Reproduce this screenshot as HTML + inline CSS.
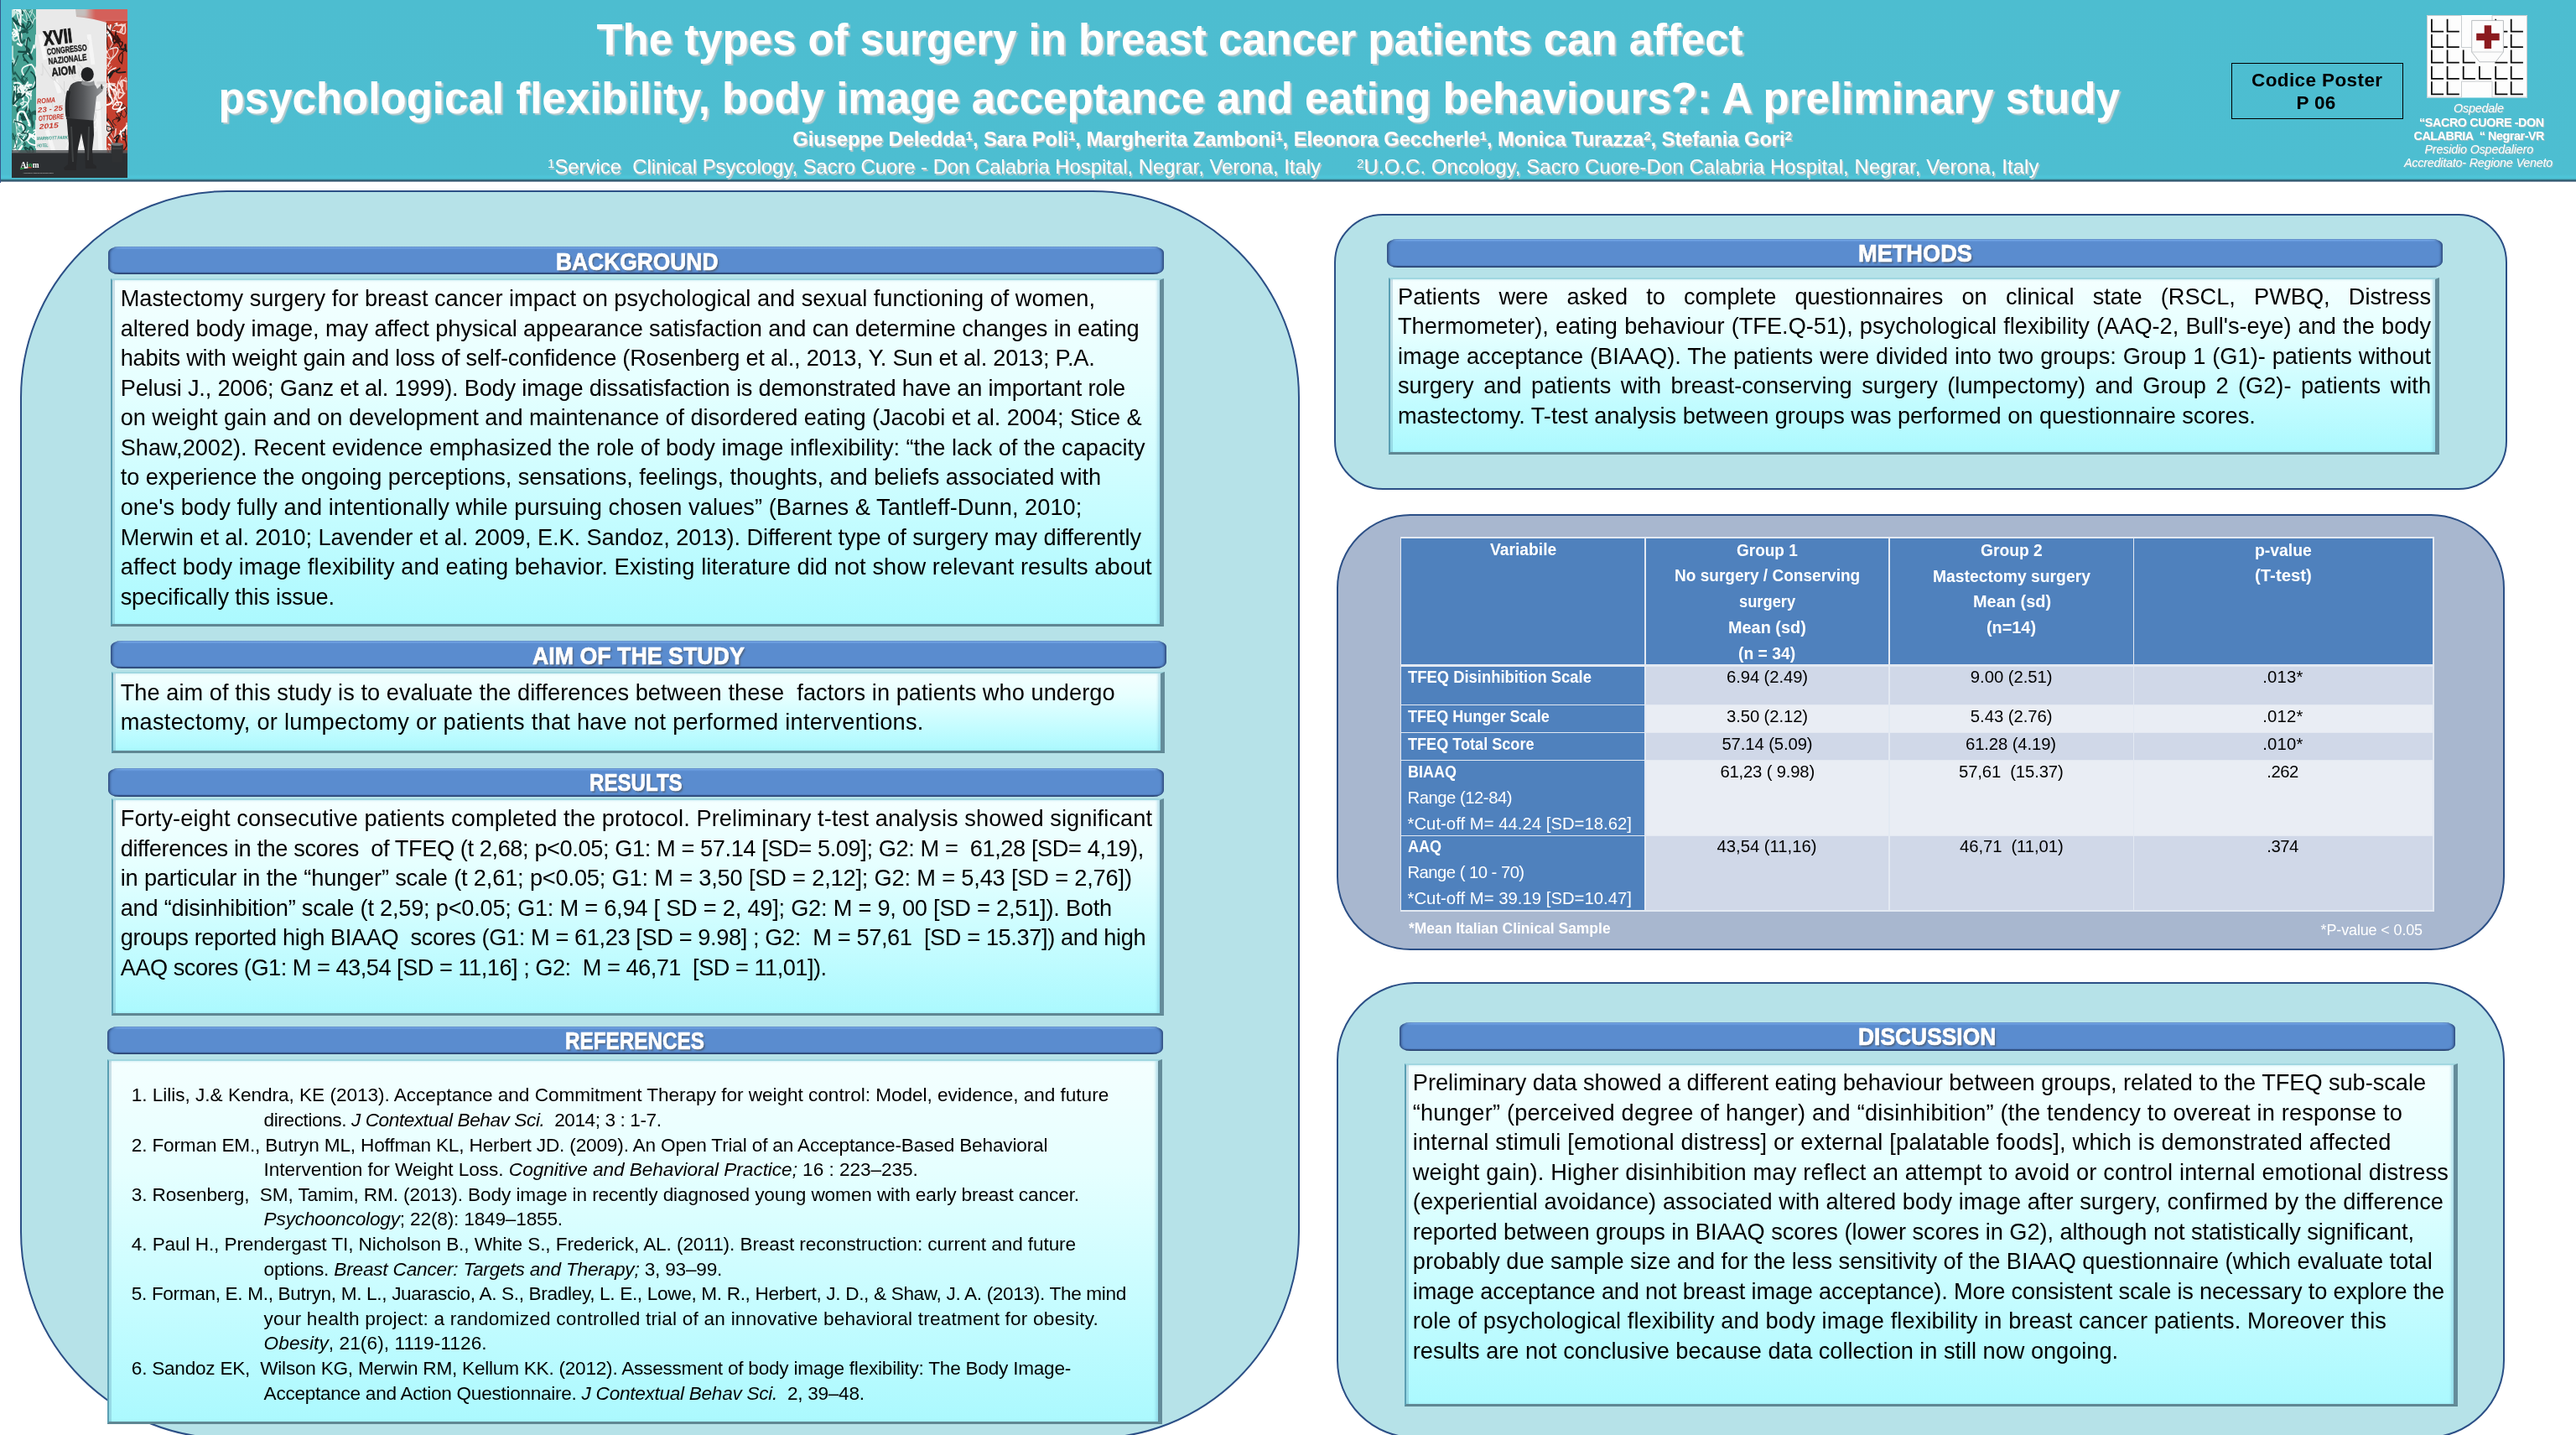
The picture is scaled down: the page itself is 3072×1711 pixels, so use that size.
<!DOCTYPE html>
<html lang="en">
<head>
<meta charset="utf-8">
<title>The types of surgery in breast cancer patients – poster</title>
<style>
html,body{margin:0;padding:0;}
html{background:#fff;}
body{width:3072px;height:1711px;background:#fff;font-family:"Liberation Sans",sans-serif;color:#000;}
#pg{position:relative;width:3072px;height:1711px;overflow:hidden;background:#fff;}
.t{position:absolute;white-space:nowrap;line-height:1;}
.sx{transform-origin:0 50%;}
#txt{position:absolute;left:0;top:0;width:3072px;height:1711px;will-change:transform;}
.su{font-size:64%;position:relative;top:-.45em;}
.abs{position:absolute;box-sizing:border-box;}
#hdr{left:0;top:0;width:3072px;height:218px;
 background:linear-gradient(#4dbdd0 0,#4dbed1 208px,#4ec6da 211px,#4cbfd1 213.2px,#3a7f92 214.2px,#2d5a6c 215px,#35566e 216px,#aebccd 216.8px,#fff 217.5px);
 border-left:1.5px solid #35588a;}
.panel{border:2px solid #2b4f86;background:#b6e2e8;}
.bar{background:linear-gradient(#6d9fe0 0,#7fb3f3 1.2px,#5e90d4 2.8px,#5a8ccf 4px,#5a8ccf calc(100% - 3.2px),#4c7abc calc(100% - 2.2px),#2e4876 calc(100% - 1.2px),#2e4876 100%);
 border-radius:13px/8px;box-shadow:inset 3px 0 3px -1px rgba(40,65,110,.85),inset -3px 0 3px -1px rgba(40,65,110,.85);}
.tb{background:linear-gradient(#f4ffff 0,#e6ffff 30%,#c4fcff 70%,#abf9fe 100%);
 border-top:2px solid #a0d7e0;border-left:2px solid #5a9fb3;border-right:5px solid #648c9a;border-bottom:3px solid #5f8793;
 box-shadow:inset 3px 0 0 rgba(90,140,170,.28),inset -3px 0 3px rgba(120,190,215,.45);}
#cod{left:2661px;top:75px;width:205px;height:67px;border:1.5px solid #000;}
/* table */
.c{position:absolute;box-sizing:border-box;}
</style>
</head>
<body>
<div id="pg">
<!-- ===== header ===== -->
<div class="abs" id="hdr"></div>
<!--AIOM--><svg class="abs" style="left:14px;top:11px;will-change:transform" width="138" height="201" viewBox="0 0 138 201" font-family="Liberation Sans, sans-serif">
<defs><filter id="bl" x="-20%" y="-20%" width="140%" height="140%"><feGaussianBlur stdDeviation="2.2"/></filter>
<linearGradient id="tor" x1="0" x2="1" y1="0" y2="0"><stop offset="0" stop-color="#2e2f31"/><stop offset=".45" stop-color="#55575a"/><stop offset="1" stop-color="#9a9c9e"/></linearGradient></defs>
<rect width="138" height="201" fill="#cbb9b2"/>
<g filter="url(#bl)"><rect x="70" y="-4" width="72" height="24" fill="#cf8f88"/><rect x="96" y="-4" width="46" height="20" fill="#d4605a"/><rect x="60" y="-4" width="30" height="14" fill="#c4c0be"/></g>
<rect x="0" y="0" width="30" height="176" fill="#46a193"/>
<path d="M10.1 27.6 Q1.0 36.6 1.9 30.3 Q11.8 22.3 1.0 27.7 Q1.0 29.1 1.0 29.8 Q11.7 33.4 2.7 15.7" fill="none" stroke="#ffffff" stroke-width="1.5" stroke-linecap="round"/>
<path d="M28.3 9.9 Q23.3 -0.0 20.7 3.8 Q28.3 -5.1 22.3 8.2" fill="none" stroke="#c9e8e1" stroke-width="1.0" stroke-linecap="round"/>
<path d="M20.9 97.9 Q13.9 103.0 19.5 92.0 Q21.5 90.7 15.5 101.4 Q20.3 94.3 17.0 102.2 Q26.0 108.6 12.7 117.6" fill="none" stroke="#eef8f5" stroke-width="1.7" stroke-linecap="round"/>
<path d="M5.6 60.1 Q3.7 73.1 1.0 62.0 Q7.9 70.9 1.0 57.2 Q1.0 65.5 1.0 44.2" fill="none" stroke="#c9e8e1" stroke-width="1.7" stroke-linecap="round"/>
<path d="M19.6 12.3 Q15.0 14.5 23.2 10.6 Q28.4 21.4 20.2 24.7 Q16.7 27.8 20.0 15.7 Q14.9 22.3 18.0 29.0" fill="none" stroke="#174a44" stroke-width="0.9" stroke-linecap="round"/>
<path d="M13.6 95.4 Q21.2 105.6 9.1 92.7 Q5.8 103.5 18.3 81.5" fill="none" stroke="#1f5d55" stroke-width="1.1" stroke-linecap="round"/>
<path d="M19.4 4.1 Q11.8 -2.1 12.4 5.2 Q15.0 0.1 4.9 16.7 Q15.7 21.0 9.7 15.3 Q18.6 27.9 13.3 17.2" fill="none" stroke="#174a44" stroke-width="1.5" stroke-linecap="round"/>
<path d="M3.9 109.8 Q1.0 123.4 2.7 97.3 Q5.1 86.2 4.0 98.5" fill="none" stroke="#c9e8e1" stroke-width="1.9" stroke-linecap="round"/>
<path d="M3.0 37.4 Q1.0 30.4 1.0 33.0 Q1.0 42.8 10.9 31.9 Q10.5 20.3 2.9 26.9" fill="none" stroke="#c9e8e1" stroke-width="1.7" stroke-linecap="round"/>
<path d="M20.4 89.8 Q29.0 90.6 13.3 91.2 Q2.0 91.9 22.9 102.8" fill="none" stroke="#ffffff" stroke-width="2.3" stroke-linecap="round"/>
<path d="M15.5 156.4 Q22.0 157.3 21.1 151.0 Q14.4 159.7 29.0 162.2 Q29.0 171.2 29.0 153.5" fill="none" stroke="#ffffff" stroke-width="1.7" stroke-linecap="round"/>
<path d="M21.5 170.2 Q20.8 161.7 23.6 165.2 Q29.0 171.5 20.6 172.0 Q10.5 160.9 20.0 166.8" fill="none" stroke="#174a44" stroke-width="1.9" stroke-linecap="round"/>
<path d="M26.2 144.9 Q29.0 140.5 29.0 155.6 Q19.9 152.5 29.0 146.0 Q29.0 144.1 29.0 132.7" fill="none" stroke="#ffffff" stroke-width="1.5" stroke-linecap="round"/>
<path d="M12.2 163.0 Q4.1 176.8 2.8 165.9 Q2.0 170.2 5.0 168.9 Q4.4 181.2 1.0 170.5 Q1.0 178.9 5.5 157.8" fill="none" stroke="#ffffff" stroke-width="2.5" stroke-linecap="round"/>
<path d="M13.1 150.2 Q1.8 142.2 13.2 158.6 Q9.0 159.9 19.9 144.6" fill="none" stroke="#ffffff" stroke-width="1.4" stroke-linecap="round"/>
<path d="M13.8 101.2 Q11.9 112.9 13.9 102.2 Q14.4 88.7 12.7 92.0 Q1.0 100.4 6.1 91.2 Q11.5 92.8 2.6 91.8" fill="none" stroke="#ffffff" stroke-width="1.7" stroke-linecap="round"/>
<path d="M22.7 152.1 Q16.7 145.9 28.2 152.4 Q29.0 159.7 29.0 150.6" fill="none" stroke="#ffffff" stroke-width="2.6" stroke-linecap="round"/>
<path d="M18.0 35.9 Q16.8 36.8 17.5 50.0 Q22.3 60.6 26.4 42.3 Q27.8 54.7 29.0 30.7" fill="none" stroke="#eef8f5" stroke-width="1.5" stroke-linecap="round"/>
<path d="M9.8 116.1 Q1.0 120.8 15.5 128.8 Q7.2 134.9 18.7 117.4 Q27.9 130.5 13.1 131.9" fill="none" stroke="#174a44" stroke-width="2.4" stroke-linecap="round"/>
<path d="M5.6 115.5 Q1.0 113.6 5.9 110.4 Q1.0 105.3 10.3 95.0" fill="none" stroke="#ffffff" stroke-width="1.6" stroke-linecap="round"/>
<path d="M20.7 67.3 Q23.7 67.7 12.0 82.9 Q18.9 96.1 4.1 75.4 Q1.0 83.2 1.0 63.5 Q1.0 75.0 7.4 55.8" fill="none" stroke="#1f5d55" stroke-width="1.8" stroke-linecap="round"/>
<path d="M15.4 86.1 Q5.6 73.7 19.2 83.7 Q8.9 96.0 21.9 93.3 Q11.9 103.3 13.2 105.0" fill="none" stroke="#174a44" stroke-width="0.8" stroke-linecap="round"/>
<path d="M28.8 73.0 Q29.0 60.2 29.0 87.0 Q29.0 80.4 22.6 100.9 Q25.7 101.7 16.7 99.1" fill="none" stroke="#ffffff" stroke-width="1.1" stroke-linecap="round"/>
<path d="M10.7 5.1 Q1.0 -8.4 10.8 20.4 Q11.2 13.3 9.8 25.5 Q13.4 29.8 10.7 37.9" fill="none" stroke="#ffffff" stroke-width="1.4" stroke-linecap="round"/>
<path d="M7.0 41.0 Q15.0 46.8 9.7 38.0 Q6.1 25.5 2.3 24.2" fill="none" stroke="#ffffff" stroke-width="2.4" stroke-linecap="round"/>
<path d="M13.1 11.4 Q21.3 21.8 16.5 4.4 Q10.3 -1.4 15.7 2.0 Q14.4 -4.6 24.9 17.1 Q26.0 10.0 29.0 11.0" fill="none" stroke="#c9e8e1" stroke-width="1.1" stroke-linecap="round"/>
<path d="M10.4 16.3 Q10.5 7.9 10.5 2.0 Q4.8 -9.5 8.5 2.0 Q1.0 -3.5 3.1 4.7" fill="none" stroke="#ffffff" stroke-width="2.3" stroke-linecap="round"/>
<path d="M5.3 153.8 Q2.7 148.9 15.0 142.6 Q20.4 146.6 5.9 153.3 Q15.3 156.9 10.6 163.3 Q1.9 163.9 10.7 172.0" fill="none" stroke="#8fcfc3" stroke-width="0.8" stroke-linecap="round"/>
<path d="M20.2 137.7 Q24.6 143.1 14.8 122.7 Q6.0 118.8 6.9 133.4 Q8.3 137.0 9.4 139.2 Q9.2 125.3 15.4 147.1" fill="none" stroke="#ffffff" stroke-width="2.4" stroke-linecap="round"/>
<path d="M3.6 91.4 Q9.3 84.5 1.0 83.9 Q6.5 75.7 5.8 99.1 Q5.7 95.9 5.4 105.0 Q11.8 108.3 8.2 91.5" fill="none" stroke="#1f5d55" stroke-width="1.4" stroke-linecap="round"/>
<path d="M19.2 119.8 Q20.9 106.1 10.5 112.4 Q14.6 117.8 14.0 105.7 Q14.4 104.7 13.3 93.5 Q22.7 85.1 22.9 107.5" fill="none" stroke="#eef8f5" stroke-width="1.3" stroke-linecap="round"/>
<path d="M3.1 88.1 Q15.0 85.0 11.5 101.9 Q1.3 90.4 16.4 94.3 Q13.1 97.2 19.1 87.2" fill="none" stroke="#eef8f5" stroke-width="2.1" stroke-linecap="round"/>
<path d="M7.5 154.6 Q4.9 145.1 16.5 160.4 Q14.2 166.8 14.8 156.5 Q5.7 151.7 11.3 151.3" fill="none" stroke="#174a44" stroke-width="1.0" stroke-linecap="round"/>
<path d="M26.9 123.2 Q21.9 119.6 24.8 139.2 Q26.9 135.3 23.4 132.0 Q12.5 120.8 29.0 125.1 Q29.0 118.1 24.3 125.5" fill="none" stroke="#1f5d55" stroke-width="2.2" stroke-linecap="round"/>
<path d="M23.0 74.7 Q29.0 78.4 29.0 88.8 Q29.0 95.0 20.0 96.3" fill="none" stroke="#174a44" stroke-width="1.9" stroke-linecap="round"/>
<path d="M4.9 149.8 Q1.0 161.8 1.0 148.9 Q1.0 143.3 5.8 164.2 Q1.0 168.5 1.8 166.0" fill="none" stroke="#174a44" stroke-width="1.0" stroke-linecap="round"/>
<path d="M19.0 14.8 Q28.8 14.7 13.4 27.8 Q25.3 26.4 6.2 17.9 Q1.0 13.5 1.0 9.6 Q1.0 11.5 8.7 17.6" fill="none" stroke="#174a44" stroke-width="1.5" stroke-linecap="round"/>
<path d="M21.9 37.7 Q18.0 25.4 17.4 52.7 Q8.5 52.8 20.0 64.3 Q13.2 57.9 15.0 61.1" fill="none" stroke="#174a44" stroke-width="1.6" stroke-linecap="round"/>
<path d="M9.7 140.4 Q1.0 138.3 15.0 150.2 Q26.2 149.9 6.5 163.9" fill="none" stroke="#8fcfc3" stroke-width="1.8" stroke-linecap="round"/>
<path d="M14.1 78.3 Q7.5 68.6 23.5 65.8 Q29.0 71.4 29.0 78.4" fill="none" stroke="#eef8f5" stroke-width="1.8" stroke-linecap="round"/>
<path d="M2.1 135.0 Q3.8 122.0 6.4 149.8 Q9.4 150.6 5.2 158.2" fill="none" stroke="#eef8f5" stroke-width="0.9" stroke-linecap="round"/>
<path d="M15.7 101.1 Q9.9 109.2 5.7 102.3 Q17.6 96.1 2.0 113.2 Q1.0 113.9 3.0 98.1" fill="none" stroke="#174a44" stroke-width="2.1" stroke-linecap="round"/>
<path d="M9.6 5.7 Q18.8 9.8 1.2 2.0 Q1.0 -1.6 1.1 8.3 Q6.3 4.4 1.0 2.0" fill="none" stroke="#c9e8e1" stroke-width="2.1" stroke-linecap="round"/>
<path d="M15.1 36.9 Q10.6 45.8 9.8 28.0 Q16.0 22.2 18.8 27.8" fill="none" stroke="#1f5d55" stroke-width="2.4" stroke-linecap="round"/>
<path d="M14.6 156.8 Q25.4 146.9 12.5 147.6 Q23.8 137.6 3.5 133.5" fill="none" stroke="#174a44" stroke-width="1.6" stroke-linecap="round"/>
<path d="M20.9 55.4 Q29.0 67.5 17.5 45.4 Q28.0 52.2 8.2 50.6" fill="none" stroke="#174a44" stroke-width="2.3" stroke-linecap="round"/>
<rect x="112.5" y="14" width="25.5" height="162" fill="#c6402f"/>
<path d="M136.6 86.1 Q124.7 80.0 133.7 100.7 Q124.6 113.7 127.8 96.1" fill="none" stroke="#f4d2cc" stroke-width="1.9" stroke-linecap="round"/>
<path d="M123.4 25.6 Q116.1 26.7 122.3 19.9 Q128.0 19.2 124.9 18.0 Q127.9 15.3 122.5 18.0" fill="none" stroke="#ffffff" stroke-width="1.1" stroke-linecap="round"/>
<path d="M130.9 156.4 Q127.6 151.8 137.0 141.8 Q137.0 147.1 137.0 135.3 Q137.0 138.0 137.0 149.6" fill="none" stroke="#ffffff" stroke-width="0.7" stroke-linecap="round"/>
<path d="M118.6 91.2 Q129.5 88.0 113.6 88.9 Q113.5 100.9 113.0 98.6 Q118.7 107.7 118.5 102.1" fill="none" stroke="#f4d2cc" stroke-width="1.9" stroke-linecap="round"/>
<path d="M124.1 138.7 Q114.0 130.2 129.1 130.6 Q118.7 117.6 130.2 125.0 Q137.0 135.8 137.0 117.5 Q127.0 106.2 137.0 124.2" fill="none" stroke="#1d1d1d" stroke-width="0.9" stroke-linecap="round"/>
<path d="M116.2 89.0 Q113.0 90.1 121.7 97.3 Q128.4 91.5 117.3 89.9 Q113.0 83.1 116.0 79.8 Q113.0 73.7 124.2 69.8" fill="none" stroke="#ffffff" stroke-width="1.3" stroke-linecap="round"/>
<path d="M136.8 96.1 Q137.0 84.9 136.1 81.3 Q124.2 92.0 130.7 79.7" fill="none" stroke="#f4d2cc" stroke-width="0.8" stroke-linecap="round"/>
<path d="M120.0 36.4 Q122.5 45.5 113.9 22.8 Q114.2 13.7 116.0 31.6" fill="none" stroke="#ffffff" stroke-width="2.0" stroke-linecap="round"/>
<path d="M115.5 109.8 Q113.0 96.9 113.0 95.2 Q125.0 82.3 117.6 108.5 Q125.2 117.4 115.8 104.4 Q118.7 92.5 113.0 104.2" fill="none" stroke="#1d1d1d" stroke-width="0.8" stroke-linecap="round"/>
<path d="M115.4 78.9 Q113.0 79.8 118.5 75.6 Q113.0 89.3 121.9 73.0 Q113.0 79.8 129.5 70.2 Q118.0 77.7 135.6 74.8" fill="none" stroke="#1d1d1d" stroke-width="1.7" stroke-linecap="round"/>
<path d="M117.9 18.9 Q116.1 27.9 116.0 31.2 Q115.1 21.7 113.0 32.8" fill="none" stroke="#ffffff" stroke-width="1.8" stroke-linecap="round"/>
<path d="M122.5 106.2 Q128.2 97.0 119.5 95.4 Q113.0 83.3 117.2 103.5 Q124.2 112.0 113.2 114.3" fill="none" stroke="#ffffff" stroke-width="2.1" stroke-linecap="round"/>
<path d="M124.6 26.2 Q121.9 37.5 127.0 36.6 Q118.8 44.6 121.4 33.5 Q129.7 42.8 115.1 24.5 Q113.0 25.0 113.0 18.0" fill="none" stroke="#3a1512" stroke-width="2.1" stroke-linecap="round"/>
<path d="M132.6 47.7 Q137.0 52.5 135.9 42.0 Q133.3 40.8 137.0 50.9 Q137.0 45.6 132.0 47.4 Q128.8 47.5 125.6 31.5" fill="none" stroke="#1d1d1d" stroke-width="1.4" stroke-linecap="round"/>
<path d="M123.7 113.3 Q131.8 122.0 121.7 99.4 Q118.3 95.6 127.8 99.5 Q131.5 86.7 120.4 113.1" fill="none" stroke="#f4d2cc" stroke-width="1.8" stroke-linecap="round"/>
<path d="M125.3 26.4 Q134.8 30.6 131.0 18.0 Q120.6 21.2 134.8 18.0 Q126.0 28.8 130.6 28.0 Q137.0 33.2 135.0 19.0" fill="none" stroke="#f4d2cc" stroke-width="1.6" stroke-linecap="round"/>
<path d="M119.1 67.9 Q113.7 76.7 113.0 67.9 Q123.1 59.8 113.0 68.1 Q113.0 55.2 113.0 57.3 Q123.5 62.3 120.9 46.7" fill="none" stroke="#f4d2cc" stroke-width="0.9" stroke-linecap="round"/>
<path d="M125.7 116.0 Q136.9 114.7 126.2 122.0 Q135.7 115.1 126.9 133.4 Q132.6 129.8 124.4 129.2" fill="none" stroke="#3a1512" stroke-width="1.2" stroke-linecap="round"/>
<path d="M131.4 86.1 Q134.1 98.9 127.3 86.6 Q122.7 99.7 134.7 100.3" fill="none" stroke="#f4d2cc" stroke-width="1.7" stroke-linecap="round"/>
<path d="M130.9 52.1 Q133.7 50.2 131.2 64.8 Q122.4 57.2 134.2 49.5 Q122.3 45.4 126.4 44.9" fill="none" stroke="#3a1512" stroke-width="1.3" stroke-linecap="round"/>
<path d="M120.2 38.6 Q123.2 37.9 113.0 52.6 Q113.0 42.7 113.0 57.0 Q121.9 64.9 113.0 49.4" fill="none" stroke="#ffffff" stroke-width="0.8" stroke-linecap="round"/>
<path d="M132.7 155.5 Q136.2 153.9 137.0 162.9 Q131.0 174.2 127.9 164.0 Q125.6 156.6 119.0 172.0 Q113.0 173.4 127.9 160.6" fill="none" stroke="#3a1512" stroke-width="1.4" stroke-linecap="round"/>
<path d="M128.4 117.7 Q135.9 108.6 124.6 111.3 Q113.8 122.2 130.3 118.2 Q118.4 127.9 135.2 117.1" fill="none" stroke="#ffffff" stroke-width="1.6" stroke-linecap="round"/>
<path d="M117.2 171.5 Q113.0 158.6 113.9 172.0 Q118.6 181.7 118.2 164.5 Q119.4 162.7 123.9 165.3" fill="none" stroke="#f4d2cc" stroke-width="1.1" stroke-linecap="round"/>
<path d="M135.3 155.7 Q137.0 142.1 130.5 147.3 Q136.3 159.7 135.4 141.7" fill="none" stroke="#1d1d1d" stroke-width="1.2" stroke-linecap="round"/>
<path d="M118.7 157.8 Q128.9 171.3 125.6 158.9 Q124.9 159.8 115.7 143.8 Q126.6 136.3 123.4 153.0 Q120.8 155.4 124.7 142.5" fill="none" stroke="#ffffff" stroke-width="0.7" stroke-linecap="round"/>
<path d="M115.6 161.1 Q127.0 166.7 113.0 149.5 Q116.4 136.7 113.0 135.0 Q121.6 142.3 113.0 149.5" fill="none" stroke="#ece4e1" stroke-width="1.9" stroke-linecap="round"/>
<path d="M114.6 151.6 Q125.2 140.6 113.0 139.2 Q113.0 149.0 119.2 143.5 Q127.0 147.2 115.0 130.7 Q113.0 137.9 113.0 124.9" fill="none" stroke="#1d1d1d" stroke-width="1.1" stroke-linecap="round"/>
<path d="M121.4 161.2 Q126.6 157.5 117.8 172.0 Q117.9 181.8 120.2 157.0" fill="none" stroke="#1d1d1d" stroke-width="0.7" stroke-linecap="round"/>
<path d="M125.4 33.1 Q130.4 34.2 119.8 44.7 Q113.0 53.7 113.2 28.8 Q113.0 36.1 122.7 18.0" fill="none" stroke="#1d1d1d" stroke-width="0.8" stroke-linecap="round"/>
<path d="M129.7 145.1 Q131.9 157.9 130.0 147.6 Q121.8 156.4 137.0 139.0 Q129.0 151.3 137.0 138.7" fill="none" stroke="#ffffff" stroke-width="1.5" stroke-linecap="round"/>
<path d="M115.5 68.3 Q113.1 65.4 123.3 55.1 Q132.6 41.8 117.4 47.5" fill="none" stroke="#ece4e1" stroke-width="1.4" stroke-linecap="round"/>
<path d="M122.1 154.1 Q132.8 143.7 124.0 160.2 Q126.5 147.1 125.6 160.9" fill="none" stroke="#1d1d1d" stroke-width="1.6" stroke-linecap="round"/>
<path d="M130.8 44.1 Q135.3 37.3 125.4 38.8 Q128.9 44.3 125.6 31.4 Q131.7 40.5 127.9 38.5" fill="none" stroke="#3a1512" stroke-width="1.7" stroke-linecap="round"/>
<path d="M29 0 L76 0 L77 9 L86 10 L98 12 L106 14 L113 16 L113 176 L29 176 Z" fill="#e9e9e9"/>
<path d="M34 30 L40 60 M52 84 L57 100 M92 30 L97 66 M42 144 L50 170 M103 110 L106 170" stroke="#f8f8f8" stroke-width="5" opacity=".8" fill="none"/>
<path d="M78.6 67.0 Q74.5 58.3 88.1 74.3 Q78.6 87.3 80.1 70.6" fill="none" stroke="#dadada" stroke-width="1.1" stroke-linecap="round"/>
<path d="M88.3 80.1 Q78.9 91.6 83.9 92.4 Q83.0 78.8 91.0 90.4" fill="none" stroke="#dadada" stroke-width="0.9" stroke-linecap="round"/>
<path d="M80.8 84.4 Q75.0 91.1 70.9 76.2 Q79.4 81.8 72.7 80.9" fill="none" stroke="#dadada" stroke-width="1.0" stroke-linecap="round"/>
<path d="M82.3 147.4 Q87.1 157.3 85.9 151.9 Q84.8 146.7 88.4 139.1 Q86.5 147.0 92.7 143.2 Q86.7 141.1 91.8 147.1" fill="none" stroke="#f9f9f9" stroke-width="0.9" stroke-linecap="round"/>
<path d="M82.9 146.7 Q78.8 133.0 89.6 159.8 Q80.1 152.8 83.9 166.0 Q94.7 157.6 80.9 166.0 Q79.8 157.7 80.4 150.5" fill="none" stroke="#f9f9f9" stroke-width="0.9" stroke-linecap="round"/>
<path d="M64.4 158.1 Q76.1 149.2 64.6 166.0 Q70.1 169.2 67.4 158.1" fill="none" stroke="#f9f9f9" stroke-width="0.8" stroke-linecap="round"/>
<path d="M35.0 77.6 Q38.1 82.5 36.6 65.1 Q34.0 62.3 45.7 80.2 Q57.5 93.1 44.9 69.5" fill="none" stroke="#dadada" stroke-width="1.1" stroke-linecap="round"/>
<path d="M80.9 85.3 Q86.2 94.1 73.9 90.6 Q81.8 98.9 72.1 106.5 Q78.4 110.7 77.7 105.5 Q84.5 98.0 81.8 111.5" fill="none" stroke="#f9f9f9" stroke-width="1.0" stroke-linecap="round"/>
<path d="M69.6 136.4 Q66.2 140.7 66.0 135.9 Q69.0 124.3 74.0 124.8 Q69.3 121.6 65.7 126.9" fill="none" stroke="#f9f9f9" stroke-width="1.0" stroke-linecap="round"/>
<path d="M44.4 140.4 Q46.4 144.8 38.6 126.7 Q34.0 129.7 40.2 138.0 Q34.0 136.7 45.9 128.7 Q43.5 129.6 48.0 134.7" fill="none" stroke="#dadada" stroke-width="1.0" stroke-linecap="round"/>
<path d="M100.1 133.8 Q92.9 139.2 100.8 141.5 Q99.3 152.2 101.9 134.0 Q95.5 123.9 101.7 119.9" fill="none" stroke="#f9f9f9" stroke-width="1.1" stroke-linecap="round"/>
<path d="M85.8 51.5 Q86.8 61.6 76.0 62.4 Q75.2 64.1 79.3 73.3" fill="none" stroke="#f9f9f9" stroke-width="0.8" stroke-linecap="round"/>
<path d="M108.0 116.7 Q108.0 120.6 98.6 120.3 Q102.9 132.3 95.2 135.7" fill="none" stroke="#d2d2d2" stroke-width="0.8" stroke-linecap="round"/>
<path d="M90.0 36.0 Q95.3 39.5 86.8 47.5 Q83.6 46.8 87.3 56.2" fill="none" stroke="#dadada" stroke-width="0.7" stroke-linecap="round"/>
<path d="M59.3 52.2 Q67.1 46.4 65.9 49.2 Q65.9 42.8 66.0 64.4" fill="none" stroke="#d2d2d2" stroke-width="0.8" stroke-linecap="round"/>
<path d="M42.7 43.2 Q37.9 45.7 45.4 52.3 Q34.4 58.6 53.1 53.8 Q42.3 48.2 43.3 43.9 Q53.4 46.9 46.4 53.1" fill="none" stroke="#d2d2d2" stroke-width="0.9" stroke-linecap="round"/>
<path d="M79.6 109.3 Q84.2 119.8 71.3 94.5 Q74.5 98.0 64.8 99.8 Q73.6 97.6 56.8 113.6 Q45.1 124.0 49.6 107.5" fill="none" stroke="#d2d2d2" stroke-width="0.7" stroke-linecap="round"/>
<path d="M56.4 78.1 Q44.8 80.0 57.9 91.4 Q57.9 92.0 64.4 100.1 Q62.5 105.6 62.5 86.3" fill="none" stroke="#d2d2d2" stroke-width="0.8" stroke-linecap="round"/>
<rect x="0" y="171" width="138" height="30" fill="#2c2f32"/>
<rect x="0" y="168" width="138" height="4" fill="#4b4e50" opacity=".8"/>
<!-- bucket -->
<path d="M118.4 161 L133 161 L132 182.5 L119.5 182.5 Z" fill="#2f3133"/><ellipse cx="125.7" cy="161" rx="7.3" ry="1.8" fill="#77797b"/><path d="M120 166 h11" stroke="#55585a" stroke-width=".8"/>
<!-- figure -->
<path d="M70 91 C66 98 64 112 65 131 L97.5 133 C99 122 100 112 101 104 L108 98 L110 92 L106 91 L102 95 L100 91 C96 87 88 86 82 86 C77 86 72 88 70 91 Z" fill="url(#tor)"/>
<path d="M66 97 C63.5 106 63 118 64.5 128 L69 128 C68 118 68 106 70 98 Z" fill="#252628"/>
<path d="M84 84 C86 88 95 88 98 85 L99 90 C95 92 87 92 83 89 Z" fill="#8f9193"/>
<ellipse cx="90.2" cy="77.5" rx="7.6" ry="8.6" fill="#202123"/>
<path d="M65.5 130 L97.5 132.5 L98 150 L96 168 L97 184 L101 187 L101 190 L88 190 L87 168 L83 148 L79 166 L77 186 L77 192 L63 192 L62 189 L67 185 L68 160 Z" fill="#27282a"/>
<path d="M71 140 L73 182 M92 140 L91 180" stroke="#46484a" stroke-width="2" fill="none" opacity=".8"/>
<rect x="101.5" y="86.3" width="10.8" height="3.4" rx="1" fill="#d9d9d9"/><path d="M107 89.5 L107.5 95" stroke="#333" stroke-width="1.4"/>
<!-- printed text -->
<g transform="translate(1.5 -2.2) rotate(-6.5 55 50)" fill="#1a1a1a" stroke="#1a1a1a" font-weight="700">
<text x="38" y="43.5" font-size="24" stroke-width="1.1" textLength="34" lengthAdjust="spacingAndGlyphs">XVII</text>
<text x="40" y="55" font-size="10.6" stroke-width=".35" textLength="48" lengthAdjust="spacingAndGlyphs">CONGRESSO</text>
<text x="40.5" y="66.5" font-size="10.6" stroke-width=".35" textLength="46" lengthAdjust="spacingAndGlyphs">NAZIONALE</text>
<text x="43" y="81" font-size="14" stroke-width=".5" textLength="29" lengthAdjust="spacingAndGlyphs">AIOM</text>
</g>
<g transform="rotate(-5 45 125)" fill="#c5372a" font-style="italic" font-weight="700">
<text x="31.5" y="111.5" font-size="8.6" textLength="22" lengthAdjust="spacingAndGlyphs">ROMA</text>
<text x="31.5" y="122" font-size="8.6" textLength="30" lengthAdjust="spacingAndGlyphs">23 - 25</text>
<text x="31.5" y="132" font-size="8.6" textLength="30" lengthAdjust="spacingAndGlyphs">OTTOBRE</text>
<text x="31.5" y="142" font-size="8.6" textLength="23" lengthAdjust="spacingAndGlyphs">2015</text>
</g>
<g fill="#3d9a8b" font-style="italic" font-weight="700" transform="rotate(-2 45 158)">
<text x="30" y="155.5" font-size="5.6" textLength="37" lengthAdjust="spacingAndGlyphs">MARRIOTT PARK</text>
<text x="30" y="164" font-size="5.6" textLength="13.5" lengthAdjust="spacingAndGlyphs">HOTEL</text>
</g>
<text x="10.5" y="188.5" font-size="10" font-weight="700" fill="#fff" font-family="Liberation Serif, serif" textLength="22" lengthAdjust="spacingAndGlyphs">A<tspan fill="#e8f5ea">i</tspan><tspan fill="#35b45a">o</tspan>m</text>
<path d="M10 190.5 l5 -1.2" stroke="#2fa84f" stroke-width="1.5"/><path d="M15 189.3 l4.5 -.6" stroke="#fff" stroke-width="1.5"/><path d="M19.5 188.7 l4 0" stroke="#d0402f" stroke-width="1.5"/>
<text x="13.5" y="195.6" font-size="2.1" fill="#d8d8d8" textLength="36" lengthAdjust="spacingAndGlyphs">Associazione Italiana di Oncologia Medica</text>
</svg><!--/AIOM-->
<div class="abs" id="cod"></div>
<!--HOSP--><svg class="abs" style="left:2894px;top:18px" width="120" height="99" viewBox="0 0 120 99">
<rect x="0" y="0" width="120" height="98.5" fill="#fdfdfd"/>
<path d="M.5 .5 H41.5 V38.5 H78 V.5 H119.5 V98 H78 V79 H41.5 V98 H.5 Z" fill="none" stroke="#c9cdd0" stroke-width="1"/>
<path d="M5.9 4.7 v15 h14.2 M24.6 4.7 v15 h14.2 M82.2 4.7 v15 h14.2 M100.7 4.7 v15 h14.2 M5.9 23.1 v15 h14.2 M24.6 23.1 v15 h14.2 M82.2 23.1 v15 h14.2 M100.7 23.1 v15 h14.2 M5.9 41.6 v15 h14.2 M24.6 41.6 v15 h14.2 M43.7 41.6 v15 h14.2 M82.2 41.6 v15 h14.2 M100.7 41.6 v15 h14.2 M5.9 60.9 v15 h14.2 M24.6 60.9 v15 h14.2 M43.7 60.9 v15 h14.2 M62.9 60.9 v15 h14.2 M82.2 60.9 v15 h14.2 M100.7 60.9 v15 h14.2 M5.9 79.3 v15 h14.2 M24.6 79.3 v15 h14.2 M82.2 79.3 v15 h14.2 M100.7 79.3 v15 h14.2" fill="none" stroke="#0a0a0a" stroke-width="1.8"/>
<path d="M53.7 6.4 H91.4 V44 L82.2 55.8 H62.9 L53.7 44 Z" fill="#fcfcfc" stroke="#b9bdc0" stroke-width="1"/>
<path d="M53.7 44 H91.4" stroke="#c4c8ca" stroke-width=".8"/>
<path d="M68.7 12.2 h8.4 v9.6 h9.6 v8.4 h-9.6 v9.7 h-8.4 v-9.7 h-9.5 v-8.4 h9.5 Z" fill="#8b1a1e"/>
</svg><!--/HOSP-->

<!-- ===== panels ===== -->
<div class="abs panel" style="left:24px;top:227px;width:1526px;height:1489px;border-radius:247px;"></div>
<div class="abs panel" style="left:1591px;top:254.5px;width:1399px;height:329px;border-radius:58px;"></div>
<div class="abs panel" style="left:1594.3px;top:612.8px;width:1392.5px;height:520.5px;border-radius:88px;background:#a8b7cf;"></div>
<div class="abs panel" style="left:1594.3px;top:1170.8px;width:1392.5px;height:544.2px;border-radius:93px;"></div>

<!-- ===== section bars ===== -->
<div class="abs bar" style="left:129px;top:293.5px;width:1259px;height:33.5px;"></div>
<div class="abs bar" style="left:132px;top:763.7px;width:1259px;height:33.5px;"></div>
<div class="abs bar" style="left:128.5px;top:916px;width:1259px;height:33.5px;"></div>
<div class="abs bar" style="left:128px;top:1223.8px;width:1259px;height:33.5px;"></div>
<div class="abs bar" style="left:1654px;top:284.8px;width:1259px;height:34.2px;"></div>
<div class="abs bar" style="left:1669px;top:1218.6px;width:1259px;height:34px;"></div>

<!-- ===== text boxes ===== -->
<div class="abs tb" style="left:132.3px;top:332px;width:1256px;height:415px;"></div>
<div class="abs tb" style="left:132.5px;top:801.2px;width:1256.6px;height:96.6px;"></div>
<div class="abs tb" style="left:132.8px;top:951.5px;width:1255.5px;height:259.1px;"></div>
<div class="abs tb" style="left:128.4px;top:1263px;width:1257.4px;height:434.5px;"></div>
<div class="abs tb" style="left:1656.3px;top:330.8px;width:1252.6px;height:211px;"></div>
<div class="abs tb" style="left:1674.5px;top:1268px;width:1256.5px;height:409px;"></div>

<!-- ===== table grid ===== -->
<div class="c" style="left:1669.6px;top:640.2px;width:1233.6px;height:447px;background:#e3e9f2;"></div>
<div class="c" style="left:1671.4px;top:642.0px;width:290.0px;height:150.0px;background:#4f81bd;"></div>
<div class="c" style="left:1962.6px;top:642.0px;width:289.8px;height:150.0px;background:#4f81bd;"></div>
<div class="c" style="left:2253.6px;top:642.0px;width:290.3px;height:150.0px;background:#4f81bd;"></div>
<div class="c" style="left:2545.1px;top:642.0px;width:356.3px;height:150.0px;background:#4f81bd;"></div>
<div class="c" style="left:1671.4px;top:795.2px;width:290.0px;height:44.5px;background:#4f81bd;"></div>
<div class="c" style="left:1962.6px;top:795.2px;width:289.8px;height:44.5px;background:#d0d8e8;"></div>
<div class="c" style="left:2253.6px;top:795.2px;width:290.3px;height:44.5px;background:#d0d8e8;"></div>
<div class="c" style="left:2545.1px;top:795.2px;width:356.3px;height:44.5px;background:#d0d8e8;"></div>
<div class="c" style="left:1671.4px;top:840.9px;width:290.0px;height:31.8px;background:#4f81bd;"></div>
<div class="c" style="left:1962.6px;top:840.9px;width:289.8px;height:31.8px;background:#e9edf4;"></div>
<div class="c" style="left:2253.6px;top:840.9px;width:290.3px;height:31.8px;background:#e9edf4;"></div>
<div class="c" style="left:2545.1px;top:840.9px;width:356.3px;height:31.8px;background:#e9edf4;"></div>
<div class="c" style="left:1671.4px;top:873.9px;width:290.0px;height:32.1px;background:#4f81bd;"></div>
<div class="c" style="left:1962.6px;top:873.9px;width:289.8px;height:32.1px;background:#d0d8e8;"></div>
<div class="c" style="left:2253.6px;top:873.9px;width:290.3px;height:32.1px;background:#d0d8e8;"></div>
<div class="c" style="left:2545.1px;top:873.9px;width:356.3px;height:32.1px;background:#d0d8e8;"></div>
<div class="c" style="left:1671.4px;top:907.2px;width:290.0px;height:88.5px;background:#4f81bd;"></div>
<div class="c" style="left:1962.6px;top:907.2px;width:289.8px;height:88.5px;background:#e9edf4;"></div>
<div class="c" style="left:2253.6px;top:907.2px;width:290.3px;height:88.5px;background:#e9edf4;"></div>
<div class="c" style="left:2545.1px;top:907.2px;width:356.3px;height:88.5px;background:#e9edf4;"></div>
<div class="c" style="left:1671.4px;top:996.9px;width:290.0px;height:88.5px;background:#4f81bd;"></div>
<div class="c" style="left:1962.6px;top:996.9px;width:289.8px;height:88.5px;background:#d0d8e8;"></div>
<div class="c" style="left:2253.6px;top:996.9px;width:290.3px;height:88.5px;background:#d0d8e8;"></div>
<div class="c" style="left:2545.1px;top:996.9px;width:356.3px;height:88.5px;background:#d0d8e8;"></div>

<!-- ===== all text ===== -->
<div id="txt">
<span class="t" style="left:711.50px;top:22.03px;font-size:51.00px;font-weight:700;color:#fff;letter-spacing:-0.035px;text-shadow:2.2px 2.2px 1.3px rgba(205,205,205,.88);">The types of surgery in breast cancer patients can affect</span>
<span class="t" style="left:260.60px;top:91.83px;font-size:51.00px;font-weight:700;color:#fff;letter-spacing:0.022px;text-shadow:2.2px 2.2px 1.3px rgba(205,205,205,.88);">psychological flexibility, body image acceptance and eating behaviours?: A preliminary study</span>
<span class="t" style="left:945.30px;top:154.15px;font-size:23.80px;font-weight:700;color:#fff;letter-spacing:-0.089px;text-shadow:1.6px 1.6px 1px rgba(200,200,200,.95);">Giuseppe Deledda<span class="su">1</span>, Sara Poli<span class="su">1</span>, Margherita Zamboni<span class="su">1</span>, Eleonora Geccherle<span class="su">1</span>, Monica Turazza<span class="su">2</span>, Stefania Gori<span class="su">2</span></span>
<span class="t" style="left:653.00px;top:187.25px;font-size:23.80px;color:#fff;letter-spacing:0.015px;text-shadow:1.6px 1.6px 1px rgba(200,200,200,.95);"><span class="su">1</span>Service&nbsp; Clinical Psycology, Sacro Cuore - Don Calabria Hospital, Negrar, Verona, Italy</span>
<span class="t" style="left:1618.00px;top:187.25px;font-size:23.80px;color:#fff;letter-spacing:0.143px;text-shadow:1.6px 1.6px 1px rgba(200,200,200,.95);"><span class="su">2</span>U.O.C. Oncology, Sacro Cuore-Don Calabria Hospital, Negrar, Verona, Italy</span>
<span class="t" style="left:2685.00px;top:84.55px;font-size:22.50px;font-weight:700;letter-spacing:0.400px;">Codice Poster</span>
<span class="t" style="left:2738.50px;top:112.15px;font-size:22.50px;font-weight:700;letter-spacing:0.277px;">P 06</span>
<span class="t" style="left:2926.00px;top:122.30px;font-size:14.30px;color:#fff;letter-spacing:-0.175px;font-style:italic;text-shadow:1px 1px 1px rgba(190,190,190,.8);">Ospedale</span>
<span class="t" style="left:2885.00px;top:138.80px;font-size:14.30px;font-weight:700;color:#fff;letter-spacing:-0.358px;text-shadow:1px 1px 1px rgba(190,190,190,.8);">“SACRO CUORE -DON</span>
<span class="t" style="left:2878.50px;top:155.10px;font-size:14.30px;font-weight:700;color:#fff;letter-spacing:-0.426px;text-shadow:1px 1px 1px rgba(190,190,190,.8);">CALABRIA&nbsp; “ Negrar-VR</span>
<span class="t" style="left:2891.50px;top:170.70px;font-size:14.30px;color:#fff;letter-spacing:-0.161px;font-style:italic;text-shadow:1px 1px 1px rgba(190,190,190,.8);">Presidio Ospedaliero</span>
<span class="t" style="left:2867.00px;top:186.60px;font-size:14.30px;color:#fff;letter-spacing:-0.195px;font-style:italic;text-shadow:1px 1px 1px rgba(190,190,190,.8);">Accreditato- Regione Veneto</span>
<span class="t sx" style="left:663.00px;top:297.00px;font-size:30.00px;font-weight:700;color:#fff;transform:scaleX(0.8795);text-shadow:2px 2px 2px rgba(70,70,70,.55);-webkit-text-stroke:.7px #fff;">BACKGROUND</span>
<span class="t sx" style="left:634.80px;top:766.61px;font-size:30.00px;font-weight:700;color:#fff;transform:scaleX(0.8922);text-shadow:2px 2px 2px rgba(70,70,70,.55);-webkit-text-stroke:.7px #fff;">AIM OF THE STUDY</span>
<span class="t sx" style="left:703.30px;top:918.21px;font-size:30.00px;font-weight:700;color:#fff;transform:scaleX(0.8034);text-shadow:2px 2px 2px rgba(70,70,70,.55);-webkit-text-stroke:.7px #fff;">RESULTS</span>
<span class="t sx" style="left:674.30px;top:1226.20px;font-size:30.00px;font-weight:700;color:#fff;transform:scaleX(0.8096);text-shadow:2px 2px 2px rgba(70,70,70,.55);-webkit-text-stroke:.7px #fff;">REFERENCES</span>
<span class="t sx" style="left:2215.70px;top:286.91px;font-size:30.00px;font-weight:700;color:#fff;transform:scaleX(0.9060);text-shadow:2px 2px 2px rgba(70,70,70,.55);-webkit-text-stroke:.7px #fff;">METHODS</span>
<span class="t sx" style="left:2215.70px;top:1221.40px;font-size:30.00px;font-weight:700;color:#fff;transform:scaleX(0.8800);text-shadow:2px 2px 2px rgba(70,70,70,.55);-webkit-text-stroke:.7px #fff;">DISCUSSION</span>
<span class="t" style="left:143.70px;top:341.98px;font-size:27.20px;letter-spacing:-0.014px;">Mastectomy surgery for breast cancer impact on psychological and sexual functioning of women,</span>
<span class="t" style="left:143.70px;top:377.55px;font-size:27.20px;letter-spacing:-0.105px;">altered body image, may affect physical appearance satisfaction and can determine changes in eating</span>
<span class="t" style="left:143.70px;top:413.12px;font-size:27.20px;letter-spacing:-0.229px;">habits with weight gain and loss of self-confidence (Rosenberg et al., 2013, Y. Sun et al. 2013; P.A.</span>
<span class="t" style="left:143.70px;top:448.69px;font-size:27.20px;letter-spacing:-0.196px;">Pelusi J., 2006; Ganz et al. 1999). Body image dissatisfaction is demonstrated have an important role</span>
<span class="t" style="left:143.70px;top:484.26px;font-size:27.20px;letter-spacing:-0.064px;">on weight gain and on development and maintenance of disordered eating (Jacobi et al. 2004; Stice &amp;</span>
<span class="t" style="left:143.70px;top:519.83px;font-size:27.20px;letter-spacing:-0.021px;">Shaw,2002). Recent evidence emphasized the role of body image inflexibility: “the lack of the capacity</span>
<span class="t" style="left:143.70px;top:555.40px;font-size:27.20px;letter-spacing:-0.052px;">to experience the ongoing perceptions, sensations, feelings, thoughts, and beliefs associated with</span>
<span class="t" style="left:143.70px;top:590.97px;font-size:27.20px;letter-spacing:0.047px;">one's body fully and intentionally while pursuing chosen values” (Barnes &amp; Tantleff-Dunn, 2010;</span>
<span class="t" style="left:143.70px;top:626.54px;font-size:27.20px;letter-spacing:-0.071px;">Merwin et al. 2010; Lavender et al. 2009, E.K. Sandoz, 2013). Different type of surgery may differently</span>
<span class="t" style="left:143.70px;top:662.11px;font-size:27.20px;letter-spacing:0.089px;">affect body image flexibility and eating behavior. Existing literature did not show relevant results about</span>
<span class="t" style="left:143.70px;top:697.68px;font-size:27.20px;letter-spacing:-0.195px;">specifically this issue.</span>
<span class="t" style="left:143.70px;top:811.68px;font-size:27.20px;letter-spacing:0.046px;">The aim of this study is to evaluate the differences between these&nbsp; factors in patients who undergo</span>
<span class="t" style="left:143.70px;top:847.25px;font-size:27.20px;letter-spacing:0.264px;">mastectomy, or lumpectomy or patients that have not performed interventions.</span>
<span class="t" style="left:143.70px;top:961.98px;font-size:27.20px;letter-spacing:0.092px;">Forty-eight consecutive patients completed the protocol. Preliminary t-test analysis showed significant</span>
<span class="t" style="left:143.70px;top:997.55px;font-size:27.20px;letter-spacing:-0.399px;">differences in the scores&nbsp; of TFEQ (t 2,68; p&lt;0.05; G1: M = 57.14 [SD= 5.09]; G2: M =&nbsp; 61,28 [SD= 4,19),</span>
<span class="t" style="left:143.70px;top:1033.12px;font-size:27.20px;letter-spacing:-0.166px;">in particular in the “hunger” scale (t 2,61; p&lt;0.05; G1: M = 3,50 [SD = 2,12]; G2: M = 5,43 [SD = 2,76])</span>
<span class="t" style="left:143.70px;top:1068.69px;font-size:27.20px;letter-spacing:-0.223px;">and “disinhibition” scale (t 2,59; p&lt;0.05; G1: M = 6,94 [ SD = 2, 49]; G2: M = 9, 00 [SD = 2,51]). Both</span>
<span class="t" style="left:143.70px;top:1104.26px;font-size:27.20px;letter-spacing:-0.386px;">groups reported high BIAAQ&nbsp; scores (G1: M = 61,23 [SD = 9.98] ; G2:&nbsp; M = 57,61&nbsp; [SD = 15.37]) and high</span>
<span class="t" style="left:143.70px;top:1139.83px;font-size:27.20px;letter-spacing:-0.493px;">AAQ scores (G1: M = 43,54 [SD = 11,16] ; G2:&nbsp; M = 46,71&nbsp; [SD = 11,01]).</span>
<span class="t j" style="left:1667.00px;top:339.98px;font-size:27.20px;letter-spacing:0.000px;word-spacing:14.604px;">Patients were asked to complete questionnaires on clinical state (RSCL, PWBQ, Distress</span>
<span class="t j" style="left:1667.00px;top:375.48px;font-size:27.20px;letter-spacing:0.000px;word-spacing:0.588px;">Thermometer), eating behaviour (TFE.Q-51), psychological flexibility (AAQ-2, Bull's-eye) and the body</span>
<span class="t j" style="left:1667.00px;top:410.98px;font-size:27.20px;letter-spacing:0.000px;word-spacing:0.386px;">image acceptance (BIAAQ). The patients were divided into two groups: Group 1 (G1)- patients without</span>
<span class="t j" style="left:1667.00px;top:446.48px;font-size:27.20px;letter-spacing:0.000px;word-spacing:3.943px;">surgery and patients with breast-conserving surgery (lumpectomy) and Group 2 (G2)- patients with</span>
<span class="t" style="left:1667.00px;top:481.98px;font-size:27.20px;letter-spacing:-0.029px;">mastectomy. T-test analysis between groups was performed on questionnaire scores.</span>
<span class="t" style="left:1684.80px;top:1277.48px;font-size:27.20px;letter-spacing:-0.045px;">Preliminary data showed a different eating behaviour between groups, related to the TFEQ sub-scale</span>
<span class="t" style="left:1684.80px;top:1312.98px;font-size:27.20px;letter-spacing:0.201px;">“hunger” (perceived degree of hanger) and “disinhibition” (the tendency to overeat in response to</span>
<span class="t" style="left:1684.80px;top:1348.48px;font-size:27.20px;letter-spacing:0.189px;">internal stimuli [emotional distress] or external [palatable foods], which is demonstrated affected</span>
<span class="t" style="left:1684.80px;top:1383.98px;font-size:27.20px;letter-spacing:0.193px;">weight gain). Higher disinhibition may reflect an attempt to avoid or control internal emotional distress</span>
<span class="t" style="left:1684.80px;top:1419.48px;font-size:27.20px;letter-spacing:0.075px;">(experiential avoidance) associated with altered body image after surgery, confirmed by the difference</span>
<span class="t" style="left:1684.80px;top:1454.98px;font-size:27.20px;letter-spacing:-0.056px;">reported between groups in BIAAQ scores (lower scores in G2), although not statistically significant,</span>
<span class="t" style="left:1684.80px;top:1490.48px;font-size:27.20px;letter-spacing:-0.036px;">probably due sample size and for the less sensitivity of the BIAAQ questionnaire (which evaluate total</span>
<span class="t" style="left:1684.80px;top:1525.98px;font-size:27.20px;letter-spacing:-0.181px;">image acceptance and not breast image acceptance). More consistent scale is necessary to explore the</span>
<span class="t" style="left:1684.80px;top:1561.48px;font-size:27.20px;letter-spacing:0.096px;">role of psychological flexibility and body image flexibility in breast cancer patients. Moreover this</span>
<span class="t" style="left:1684.80px;top:1596.98px;font-size:27.20px;letter-spacing:-0.029px;">results are not conclusive because data collection in still now ongoing.</span>
<span class="t" style="left:156.80px;top:1295.27px;font-size:22.60px;letter-spacing:-0.030px;">1. Lilis, J.&amp; Kendra, KE (2013). Acceptance and Commitment Therapy for weight control: Model, evidence, and future</span>
<span class="t" style="left:314.60px;top:1324.87px;font-size:22.60px;letter-spacing:-0.409px;">directions. <i>J Contextual Behav Sci.</i>&nbsp; 2014; 3 : 1-7.</span>
<span class="t" style="left:156.80px;top:1355.47px;font-size:22.60px;letter-spacing:-0.164px;">2. Forman EM., Butryn ML, Hoffman KL, Herbert JD. (2009). An Open Trial of an Acceptance-Based Behavioral</span>
<span class="t" style="left:314.60px;top:1384.07px;font-size:22.60px;letter-spacing:-0.040px;">Intervention for Weight Loss. <i>Cognitive and Behavioral Practice;</i> 16 : 223–235.</span>
<span class="t" style="left:156.80px;top:1413.67px;font-size:22.60px;letter-spacing:-0.101px;">3. Rosenberg,&nbsp; SM, Tamim, RM. (2013). Body image in recently diagnosed young women with early breast cancer.</span>
<span class="t" style="left:314.60px;top:1443.27px;font-size:22.60px;letter-spacing:-0.163px;"><i>Psychooncology</i>; 22(8): 1849–1855.</span>
<span class="t" style="left:156.80px;top:1472.87px;font-size:22.60px;letter-spacing:-0.092px;">4. Paul H., Prendergast TI, Nicholson B., White S., Frederick, AL. (2011). Breast reconstruction: current and future</span>
<span class="t" style="left:314.60px;top:1503.47px;font-size:22.60px;letter-spacing:-0.190px;">options. <i>Breast Cancer: Targets and Therapy;</i> 3, 93–99.</span>
<span class="t" style="left:156.80px;top:1532.07px;font-size:22.60px;letter-spacing:-0.336px;">5. Forman, E. M., Butryn, M. L., Juarascio, A. S., Bradley, L. E., Lowe, M. R., Herbert, J. D., &amp; Shaw, J. A. (2013). The mind</span>
<span class="t" style="left:314.60px;top:1561.67px;font-size:22.60px;letter-spacing:0.210px;">your health project: a randomized controlled trial of an innovative behavioral treatment for obesity.</span>
<span class="t" style="left:314.60px;top:1591.27px;font-size:22.60px;letter-spacing:0.090px;"><i>Obesity</i>, 21(6), 1119-1126.</span>
<span class="t" style="left:156.80px;top:1620.87px;font-size:22.60px;letter-spacing:-0.237px;">6. Sandoz EK,&nbsp; Wilson KG, Merwin RM, Kellum KK. (2012). Assessment of body image flexibility: The Body Image-</span>
<span class="t" style="left:314.60px;top:1651.47px;font-size:22.60px;letter-spacing:-0.281px;">Acceptance and Action Questionnaire. <i>J Contextual Behav Sci.</i>&nbsp; 2, 39–48.</span>
<span class="t sx" style="left:1777.40px;top:644.82px;font-size:20.30px;font-weight:700;color:#fff;transform:scaleX(0.9504);">Variabile</span>
<span class="t sx" style="left:2071.40px;top:645.82px;font-size:20.30px;font-weight:700;color:#fff;transform:scaleX(0.9363);">Group 1</span>
<span class="t sx" style="left:1997.00px;top:675.92px;font-size:20.30px;font-weight:700;color:#fff;transform:scaleX(0.9391);">No surgery / Conserving</span>
<span class="t sx" style="left:2074.40px;top:707.02px;font-size:20.30px;font-weight:700;color:#fff;transform:scaleX(0.9018);">surgery</span>
<span class="t sx" style="left:2061.40px;top:738.02px;font-size:20.30px;font-weight:700;color:#fff;transform:scaleX(0.9804);">Mean (sd)</span>
<span class="t sx" style="left:2073.30px;top:769.12px;font-size:20.30px;font-weight:700;color:#fff;transform:scaleX(0.9528);">(n = 34)</span>
<span class="t sx" style="left:2362.00px;top:645.82px;font-size:20.30px;font-weight:700;color:#fff;transform:scaleX(0.9479);">Group 2</span>
<span class="t sx" style="left:2305.30px;top:676.92px;font-size:20.30px;font-weight:700;color:#fff;transform:scaleX(0.9525);">Mastectomy surgery</span>
<span class="t sx" style="left:2352.50px;top:707.02px;font-size:20.30px;font-weight:700;color:#fff;transform:scaleX(0.9836);">Mean (sd)</span>
<span class="t sx" style="left:2369.00px;top:738.02px;font-size:20.30px;font-weight:700;color:#fff;transform:scaleX(0.9782);">(n=14)</span>
<span class="t sx" style="left:2689.00px;top:645.82px;font-size:20.30px;font-weight:700;color:#fff;transform:scaleX(0.9561);">p-value</span>
<span class="t sx" style="left:2689.00px;top:675.92px;font-size:20.30px;font-weight:700;color:#fff;transform:scaleX(1.0043);">(T-test)</span>
<span class="t sx" style="left:1678.50px;top:796.72px;font-size:20.30px;font-weight:700;color:#fff;transform:scaleX(0.9077);">TFEQ Disinhibition Scale</span>
<span class="t sx" style="left:1678.50px;top:844.22px;font-size:20.30px;font-weight:700;color:#fff;transform:scaleX(0.8910);">TFEQ Hunger Scale</span>
<span class="t sx" style="left:1678.50px;top:877.22px;font-size:20.30px;font-weight:700;color:#fff;transform:scaleX(0.8923);">TFEQ Total Score</span>
<span class="t sx" style="left:1678.50px;top:909.82px;font-size:20.30px;font-weight:700;color:#fff;transform:scaleX(0.8859);">BIAAQ</span>
<span class="t" style="left:1678.50px;top:941.22px;font-size:20.30px;color:#fff;letter-spacing:-0.483px;">Range (12-84)</span>
<span class="t" style="left:1678.50px;top:971.82px;font-size:20.30px;color:#fff;letter-spacing:0.024px;">*Cut-off M= 44.24 [SD=18.62]</span>
<span class="t sx" style="left:1678.50px;top:998.72px;font-size:20.30px;font-weight:700;color:#fff;transform:scaleX(0.8918);">AAQ</span>
<span class="t" style="left:1678.50px;top:1030.12px;font-size:20.30px;color:#fff;letter-spacing:-0.537px;">Range ( 10 - 70)</span>
<span class="t" style="left:1678.50px;top:1060.82px;font-size:20.30px;color:#fff;letter-spacing:0.024px;">*Cut-off M= 39.19 [SD=10.47]</span>
<span class="t" style="left:2059.00px;top:796.72px;font-size:20.30px;letter-spacing:-0.099px;">6.94 (2.49)</span>
<span class="t" style="left:2059.00px;top:844.22px;font-size:20.30px;letter-spacing:-0.099px;">3.50 (2.12)</span>
<span class="t" style="left:2053.40px;top:877.22px;font-size:20.30px;letter-spacing:-0.106px;">57.14 (5.09)</span>
<span class="t" style="left:2051.40px;top:909.82px;font-size:20.30px;letter-spacing:-0.186px;">61,23 ( 9.98)</span>
<span class="t" style="left:2047.60px;top:998.72px;font-size:20.30px;letter-spacing:-0.027px;">43,54 (11,16)</span>
<span class="t" style="left:2349.80px;top:796.72px;font-size:20.30px;letter-spacing:-0.036px;">9.00 (2.51)</span>
<span class="t" style="left:2349.80px;top:844.22px;font-size:20.30px;letter-spacing:-0.036px;">5.43 (2.76)</span>
<span class="t" style="left:2344.00px;top:877.22px;font-size:20.30px;letter-spacing:-0.115px;">61.28 (4.19)</span>
<span class="t" style="left:2336.00px;top:909.82px;font-size:20.30px;letter-spacing:-0.121px;">57,61&nbsp; (15.37)</span>
<span class="t" style="left:2337.00px;top:998.72px;font-size:20.30px;letter-spacing:-0.084px;">46,71&nbsp; (11,01)</span>
<span class="t" style="left:2698.20px;top:796.72px;font-size:20.30px;letter-spacing:0.185px;">.013*</span>
<span class="t" style="left:2698.20px;top:844.22px;font-size:20.30px;letter-spacing:0.185px;">.012*</span>
<span class="t" style="left:2698.20px;top:877.22px;font-size:20.30px;letter-spacing:0.185px;">.010*</span>
<span class="t" style="left:2703.20px;top:909.82px;font-size:20.30px;letter-spacing:-0.421px;">.262</span>
<span class="t" style="left:2703.20px;top:998.72px;font-size:20.30px;letter-spacing:-0.421px;">.374</span>
<span class="t sx" style="left:1680.40px;top:1098.39px;font-size:18.20px;font-weight:700;color:#fff;transform:scaleX(0.9598);">*Mean Italian Clinical Sample</span>
<span class="t" style="left:2767.60px;top:1100.26px;font-size:18.00px;color:#fff;letter-spacing:-0.146px;">*P-value &lt; 0.05</span>
</div>
</div>
</body>
</html>
